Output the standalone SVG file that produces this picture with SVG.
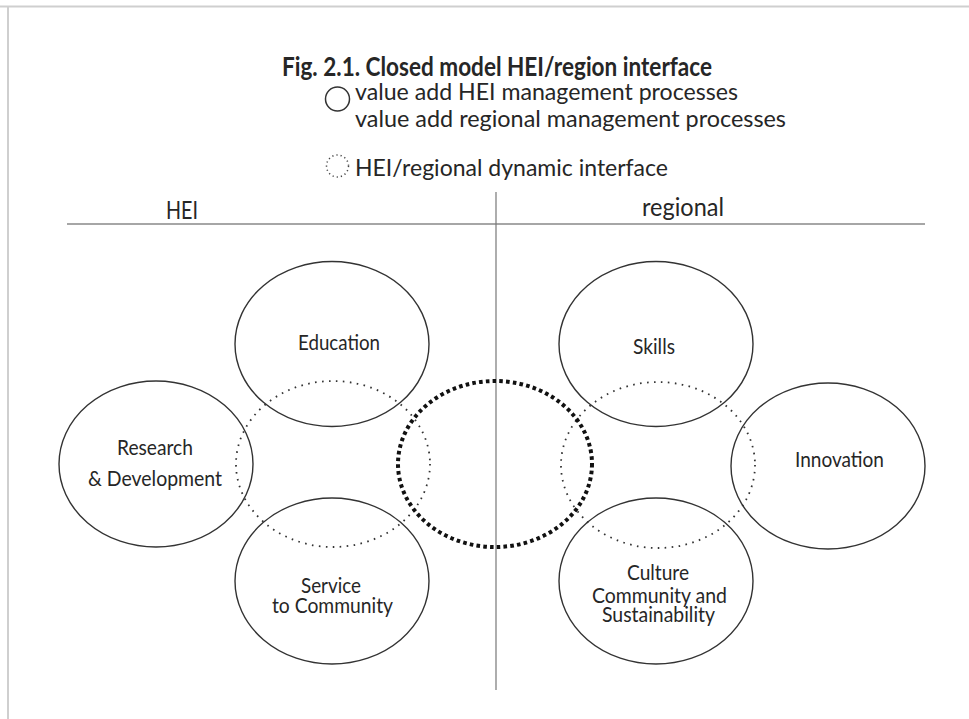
<svg xmlns="http://www.w3.org/2000/svg" width="969" height="719" viewBox="0 0 969 719">
<style>
  text { font-family: Lato, "Open Sans", "Liberation Sans", sans-serif; fill: #262626; }
  .title { font-size: 27px; font-weight: bold; }
  .legend { font-size: 24px; }
  .hdr { font-size: 25px; }
  .lbl { font-size: 21px; text-anchor: middle; }
  .node { fill: none; stroke: #333; stroke-width: 1.4; }
  .dyn { fill: none; stroke: #333; stroke-width: 1.8; stroke-dasharray: 1.6 5.4; }
  .core { fill: none; stroke: #111; stroke-width: 4; stroke-dasharray: 3.6 3.2; }
  .frame { stroke: #cfcfcf; stroke-width: 2; fill: none; }
</style>
<rect x="0" y="0" width="969" height="719" fill="#fff"/>
<path class="frame" d="M0 6.5 H969 M8 6.5 V719"/>

<text class="title" x="282" y="76" textLength="430" lengthAdjust="spacingAndGlyphs">Fig. 2.1. Closed model HEI/region interface</text>

<g id="legend">
  <circle cx="337.5" cy="99" r="12" fill="none" stroke="#333" stroke-width="1.5"/>
  <text class="legend" x="355" y="100" textLength="383" lengthAdjust="spacingAndGlyphs">value add HEI management processes</text>
  <text class="legend" x="355" y="127" textLength="431" lengthAdjust="spacingAndGlyphs">value add regional management processes</text>
  <circle cx="337.5" cy="166" r="11" fill="none" stroke="#444" stroke-width="1.5" stroke-dasharray="1.2 3"/>
  <text class="legend" x="355" y="176" textLength="313" lengthAdjust="spacingAndGlyphs">HEI/regional dynamic interface</text>
</g>

<g id="connectors">
  <line x1="67" y1="224" x2="925" y2="224" stroke="#888" stroke-width="1.6"/>
  <line x1="496" y1="192" x2="496" y2="690" stroke="#777" stroke-width="1.2"/>
</g>

<text class="hdr" x="166" y="219" textLength="32" lengthAdjust="spacingAndGlyphs">HEI</text>
<text class="hdr" x="642" y="216" textLength="82" lengthAdjust="spacingAndGlyphs">regional</text>

<g id="hei-interface"><ellipse class="dyn" cx="333" cy="464" rx="97" ry="83"/></g>
<g id="regional-interface"><ellipse class="dyn" cx="658" cy="465" rx="97" ry="83"/></g>
<g id="core-interface"><ellipse class="core" cx="495" cy="464" rx="97" ry="83"/></g>

<g id="education">
  <ellipse class="node" cx="332" cy="344" rx="97" ry="82.5"/>
  <text class="lbl" x="339" y="350" textLength="82" lengthAdjust="spacingAndGlyphs">Education</text>
</g>
<g id="research">
  <ellipse class="node" cx="156" cy="464" rx="97" ry="83"/>
  <text class="lbl" x="155" y="455" textLength="76" lengthAdjust="spacingAndGlyphs">Research</text>
  <text class="lbl" x="155" y="486" textLength="134" lengthAdjust="spacingAndGlyphs">&amp; Development</text>
</g>
<g id="service">
  <ellipse class="node" cx="332" cy="581" rx="97" ry="83"/>
  <text class="lbl" x="331" y="593" textLength="60" lengthAdjust="spacingAndGlyphs">Service</text>
  <text class="lbl" x="332.5" y="613" textLength="121" lengthAdjust="spacingAndGlyphs">to Community</text>
</g>
<g id="skills">
  <ellipse class="node" cx="656" cy="344" rx="97" ry="82.5"/>
  <text class="lbl" x="654" y="354" textLength="42" lengthAdjust="spacingAndGlyphs">Skills</text>
</g>
<g id="innovation">
  <ellipse class="node" cx="828" cy="466" rx="97" ry="83"/>
  <text class="lbl" x="839.5" y="467" textLength="89" lengthAdjust="spacingAndGlyphs">Innovation</text>
</g>
<g id="culture">
  <ellipse class="node" cx="656" cy="581" rx="97" ry="83"/>
  <text class="lbl" x="658" y="580" textLength="62" lengthAdjust="spacingAndGlyphs">Culture</text>
  <text class="lbl" x="659.5" y="603" textLength="135" lengthAdjust="spacingAndGlyphs">Community and</text>
  <text class="lbl" x="658.5" y="622" textLength="113" lengthAdjust="spacingAndGlyphs">Sustainability</text>
</g>
</svg>
